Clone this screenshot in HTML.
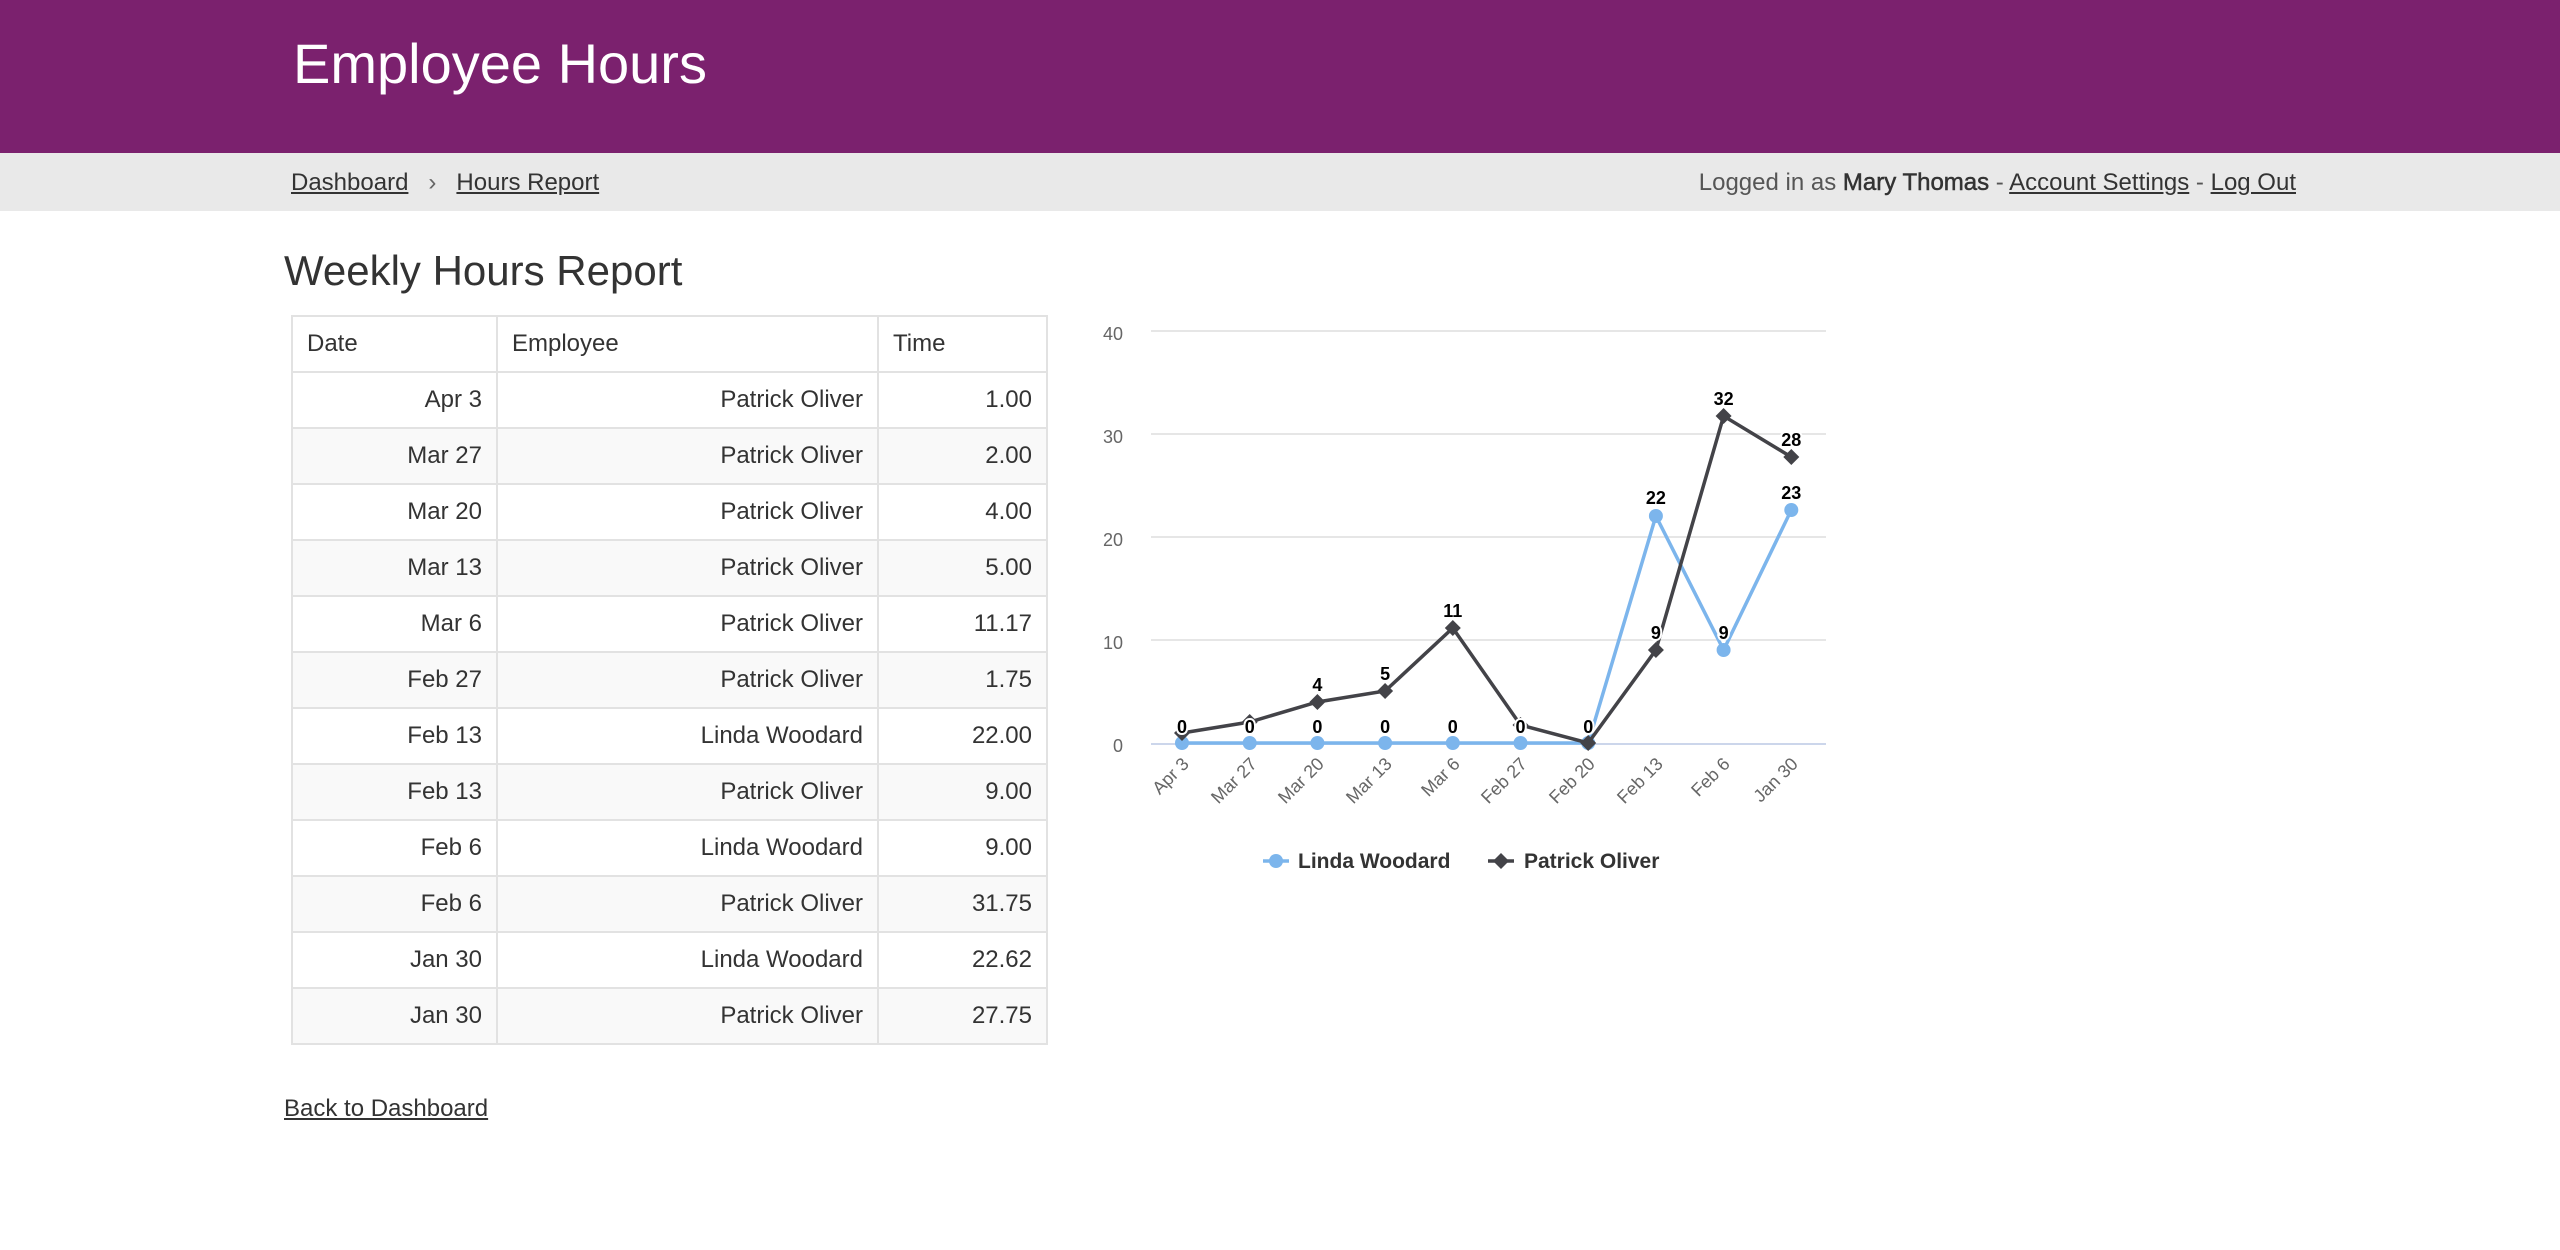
<!DOCTYPE html>
<html><head><meta charset="utf-8"><style>
*{margin:0;padding:0;box-sizing:border-box}
body{width:2560px;height:1250px;position:relative;background:#fff;font-family:"Liberation Sans",sans-serif;color:#333;overflow:hidden}
.a{position:absolute;white-space:nowrap}
u{text-decoration:underline}
table{position:absolute;left:291px;top:315px;width:757px;border-collapse:collapse;font-size:24px;color:#333}
td,th{border:2px solid #e2e2e2;height:56px;padding:0 14px}
th{text-align:left;font-weight:normal;color:#333}
td{text-align:right}
tr.s td{background:#f9f9f9}
</style></head><body>
<div class="a" style="left:0;top:0;width:2560px;height:153px;background:#7b216e"></div>
<div class="a" style="left:293px;top:29px;font-size:56px;color:#fff;line-height:70px">Employee Hours</div>
<div class="a" style="left:0;top:153px;width:2560px;height:58px;background:#e9e9e9"></div>
<div class="a" style="left:291px;top:166px;font-size:24px;line-height:34px;color:#333"><u>Dashboard</u><span style="color:#666;display:inline-block;width:48px;text-align:center">›</span><u>Hours Report</u></div>
<div class="a" style="left:1692px;top:166px;width:604px;text-align:right;font-size:24px;line-height:34px;color:#555">Logged in as <b style="color:#333;font-weight:normal;-webkit-text-stroke:0.5px #333">Mary Thomas</b> - <u style="color:#333">Account Settings</u> - <u style="color:#333">Log Out</u></div>
<div class="a" style="left:284px;top:246px;font-size:42px;line-height:50px;color:#333">Weekly Hours Report</div>
<table>
<tr><th style="width:205px">Date</th><th style="width:381px">Employee</th><th>Time</th></tr>
<tr><td>Apr 3</td><td>Patrick Oliver</td><td>1.00</td></tr>
<tr class="s"><td>Mar 27</td><td>Patrick Oliver</td><td>2.00</td></tr>
<tr><td>Mar 20</td><td>Patrick Oliver</td><td>4.00</td></tr>
<tr class="s"><td>Mar 13</td><td>Patrick Oliver</td><td>5.00</td></tr>
<tr><td>Mar 6</td><td>Patrick Oliver</td><td>11.17</td></tr>
<tr class="s"><td>Feb 27</td><td>Patrick Oliver</td><td>1.75</td></tr>
<tr><td>Feb 13</td><td>Linda Woodard</td><td>22.00</td></tr>
<tr class="s"><td>Feb 13</td><td>Patrick Oliver</td><td>9.00</td></tr>
<tr><td>Feb 6</td><td>Linda Woodard</td><td>9.00</td></tr>
<tr class="s"><td>Feb 6</td><td>Patrick Oliver</td><td>31.75</td></tr>
<tr><td>Jan 30</td><td>Linda Woodard</td><td>22.62</td></tr>
<tr class="s"><td>Jan 30</td><td>Patrick Oliver</td><td>27.75</td></tr>
</table>
<div class="a" style="left:284px;top:1093px;font-size:24px;line-height:32px;color:#333"><u>Back to Dashboard</u></div>
<svg class="a" style="left:0;top:0" width="2560" height="1250" font-family="Liberation Sans, sans-serif">
<g stroke="#e6e6e6" stroke-width="2">
<line x1="1151" y1="331" x2="1826" y2="331"/><line x1="1151" y1="434" x2="1826" y2="434"/>
<line x1="1151" y1="537" x2="1826" y2="537"/><line x1="1151" y1="640" x2="1826" y2="640"/>
<line x1="1151" y1="744" x2="1826" y2="744" stroke="#ccd6eb"/></g>
<g font-size="18" fill="#666" text-anchor="end">
<text x="1123" y="340">40</text><text x="1123" y="443">30</text><text x="1123" y="546">20</text><text x="1123" y="649">10</text><text x="1123" y="752">0</text></g>
<g font-size="18" fill="#666" text-anchor="end">
<text transform="translate(1190,765) rotate(-45)">Apr 3</text>
<text transform="translate(1258,765) rotate(-45)">Mar 27</text>
<text transform="translate(1325,765) rotate(-45)">Mar 20</text>
<text transform="translate(1393,765) rotate(-45)">Mar 13</text>
<text transform="translate(1461,765) rotate(-45)">Mar 6</text>
<text transform="translate(1528,765) rotate(-45)">Feb 27</text>
<text transform="translate(1596,765) rotate(-45)">Feb 20</text>
<text transform="translate(1664,765) rotate(-45)">Feb 13</text>
<text transform="translate(1731,765) rotate(-45)">Feb 6</text>
<text transform="translate(1799,765) rotate(-45)">Jan 30</text></g>
<polyline fill="none" stroke="#7cb5ec" stroke-width="3.5" points="1182,743 1249.7,743 1317.4,743 1385.1,743 1452.8,743 1520.5,743 1588.2,743 1655.9,516 1723.6,650 1791.3,510"/>
<g fill="#7cb5ec"><circle cx="1182" cy="743" r="7"/><circle cx="1249.7" cy="743" r="7"/><circle cx="1317.4" cy="743" r="7"/><circle cx="1385.1" cy="743" r="7"/><circle cx="1452.8" cy="743" r="7"/><circle cx="1520.5" cy="743" r="7"/><circle cx="1588.2" cy="743" r="7"/><circle cx="1655.9" cy="516" r="7"/><circle cx="1723.6" cy="650" r="7"/><circle cx="1791.3" cy="510" r="7"/></g>
<polyline fill="none" stroke="#434348" stroke-width="3.5" points="1182,733 1249.7,722 1317.4,702 1385.1,691 1452.8,628 1520.5,725 1588.2,743 1655.9,650 1723.6,416 1791.3,457"/>
<g fill="#434348">
<path d="M1182 725l8 8-8 8-8-8z"/><path d="M1249.7 714l8 8-8 8-8-8z"/><path d="M1317.4 694l8 8-8 8-8-8z"/><path d="M1385.1 683l8 8-8 8-8-8z"/><path d="M1452.8 620l8 8-8 8-8-8z"/><path d="M1520.5 717l8 8-8 8-8-8z"/><path d="M1588.2 735l8 8-8 8-8-8z"/><path d="M1655.9 642l8 8-8 8-8-8z"/><path d="M1723.6 408l8 8-8 8-8-8z"/><path d="M1791.3 449l8 8-8 8-8-8z"/></g>
<g font-size="18" font-weight="bold" fill="#000" text-anchor="middle" stroke="#fff" stroke-width="4" paint-order="stroke">
<text x="1182" y="733">0</text><text x="1249.7" y="733">0</text><text x="1317.4" y="733">0</text><text x="1385.1" y="733">0</text><text x="1452.8" y="733">0</text><text x="1520.5" y="733">0</text><text x="1588.2" y="733">0</text>
<text x="1655.9" y="504">22</text><text x="1723.6" y="639">9</text><text x="1791.3" y="499">23</text>
<text x="1317.4" y="691">4</text><text x="1385.1" y="680">5</text><text x="1452.8" y="617">11</text><text x="1655.9" y="639">9</text><text x="1723.6" y="405">32</text><text x="1791.3" y="446">28</text></g>
<line x1="1263" y1="861" x2="1289" y2="861" stroke="#7cb5ec" stroke-width="3.5"/><circle cx="1276" cy="861" r="7" fill="#7cb5ec"/>
<text x="1298" y="868" font-size="21" font-weight="bold" fill="#333">Linda Woodard</text>
<line x1="1488" y1="861" x2="1514" y2="861" stroke="#434348" stroke-width="3.5"/><path d="M1501 853l8 8-8 8-8-8z" fill="#434348"/>
<text x="1524" y="868" font-size="21" font-weight="bold" fill="#333">Patrick Oliver</text>
</svg>
</body></html>
